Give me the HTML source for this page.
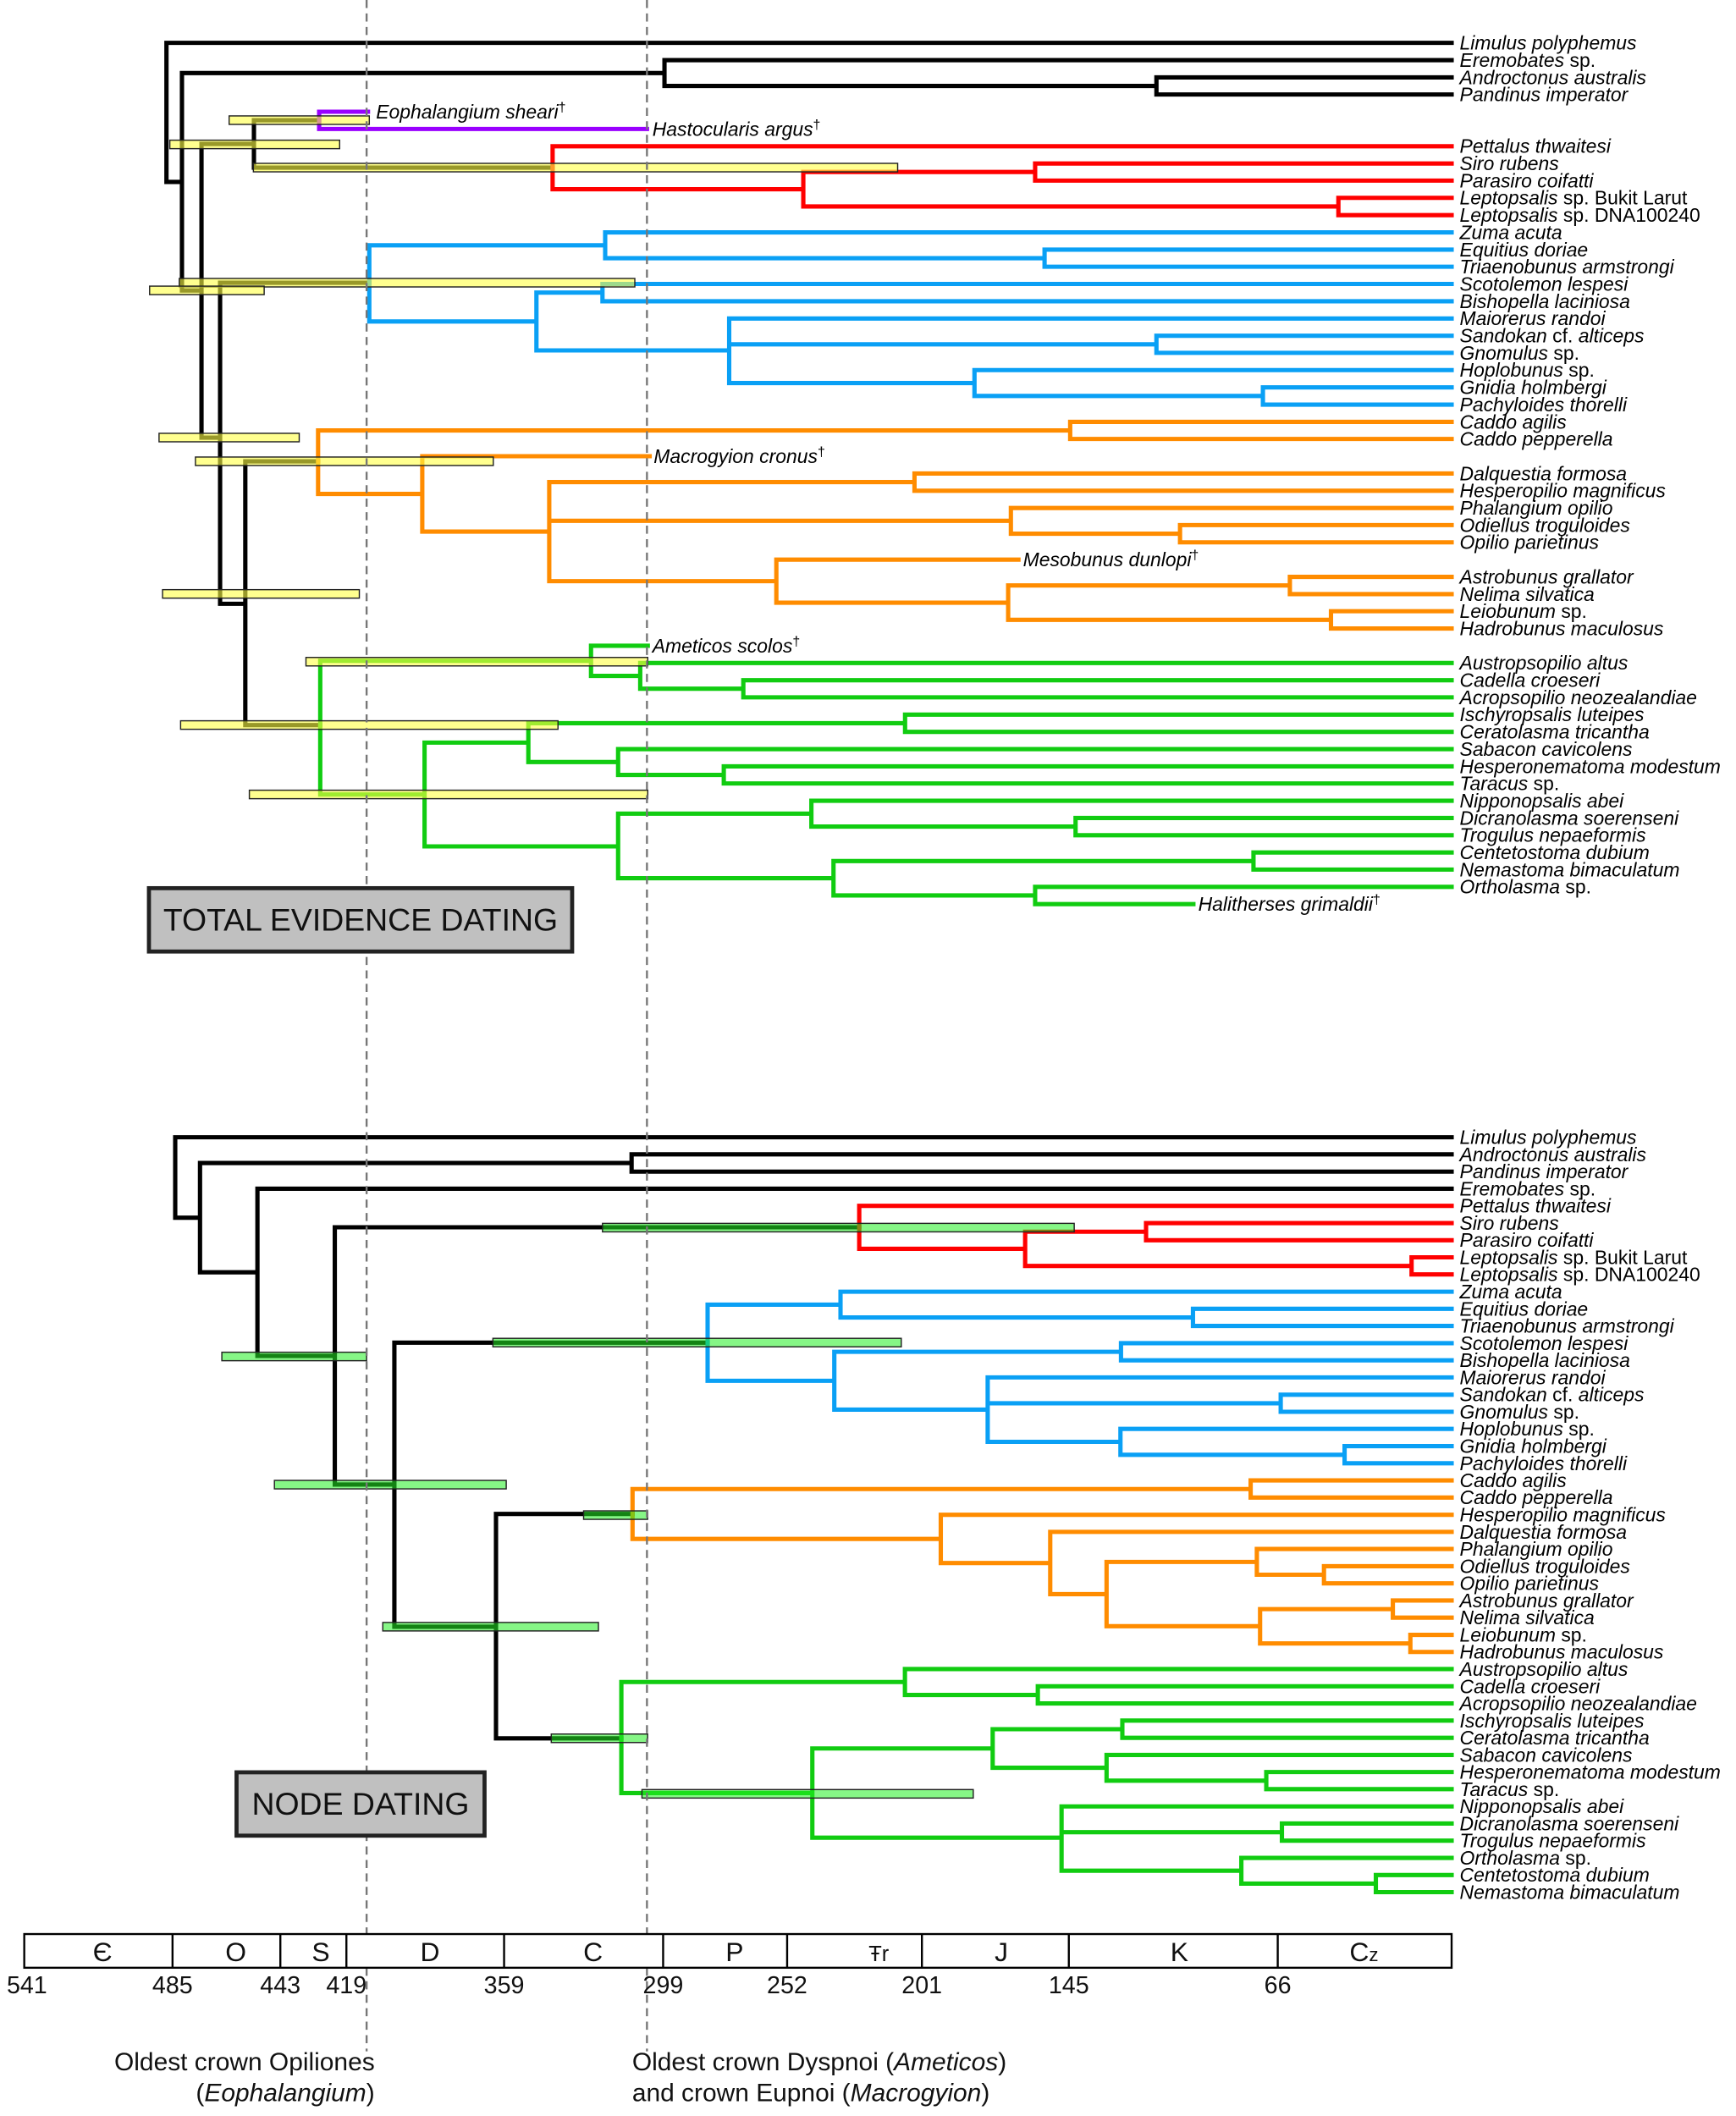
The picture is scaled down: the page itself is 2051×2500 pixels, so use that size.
<!DOCTYPE html>
<html><head><meta charset="utf-8"><style>
html,body{margin:0;padding:0;background:#fff;}
svg{display:block;}
text{font-family:"Liberation Sans",sans-serif;}
.l{font-size:14.4px;font-style:italic;}
.n{font-style:normal;}
</style></head><body>
<svg width="2051" height="2500" viewBox="0 0 1288 1570" preserveAspectRatio="none" xmlns="http://www.w3.org/2000/svg">
<g fill="none" stroke-width="3.2" stroke-linecap="square" stroke-linejoin="miter">
<path stroke="#000" d="M1077 31.8H123.5V135H135 M135 54.2V215.5H149.5 M135 54.2H493 M493 44.6V63.8 M493 44.6H1077 M493 63.8H858 M858 57.4V70.1 M858 57.4H1077 M858 70.1H1077
M149.5 106.8V324.7 M149.5 106.8H188.4 M188.4 89.2V124.4 M188.4 89.2H236.8 M188.4 124.4H410
M149.5 324.7H163.3 M163.3 209.8V448 M163.3 209.8H274 M163.3 448H182 M182 342.3V538 M182 342.3H236 M182 538H237.6"/>
<path stroke="#9900ff" d="M273 82.9H236.8V95.7H480"/>
<path stroke="#ff0000" d="M410 108.5V140.4 M410 108.5H1077 M410 140.4H596 M596 127.6V153.2 M596 127.6H768 M768 121.3V134 M768 121.3H1077 M768 134H1077 M596 153.2H993 M993 146.8V159.6 M993 146.8H1077 M993 159.6H1077"/>
<path stroke="#0aa0f5" d="M274 182V238.5 M274 182H449 M449 172.4V191.6 M449 172.4H1077 M449 191.6H775 M775 185.2V197.9 M775 185.2H1077 M775 197.9H1077
M274 238.5H398 M398 217.1V260 M398 217.1H447 M447 210.7V223.5 M447 210.7H1077 M447 223.5H1077
M398 260H541 M541 236.3V284.2 M541 236.3H1077 M541 255.5H858 M858 249.1V261.8 M858 249.1H1077 M858 261.8H1077
M541 284.2H723 M723 274.6V293.8 M723 274.6H1077 M723 293.8H937 M937 287.4V300.2 M937 287.4H1077 M937 300.2H1077"/>
<path stroke="#ff8c00" d="M236 319.4V366.5 M236 319.4H794 M794 313V325.7 M794 313H1077 M794 325.7H1077
M236 366.5H313.3 M313.3 338.5V394.4 M313.3 338.5H482 M313.3 394.4H407.5 M407.5 357.7V431.2 M407.5 357.7H678.5 M678.5 351.3V364.1 M678.5 351.3H1077 M678.5 364.1H1077
M407.5 386.4H750 M750 376.9V396 M750 376.9H1077 M750 396H875.5 M875.5 389.6V402.4 M875.5 389.6H1077 M875.5 402.4H1077
M407.5 431.2H576 M576 415.2V447.2 M576 415.2H755.6 M576 447.2H748 M748 434.4V459.9 M748 434.4H957 M957 428V440.8 M957 428H1077 M957 440.8H1077
M748 459.9H987.5 M987.5 453.5V466.3 M987.5 453.5H1077 M987.5 466.3H1077"/>
<path stroke="#11cc11" d="M237.6 490.3V589.5 M237.6 490.3H438.5 M438.5 479.1V501.5 M438.5 479.1H480.6 M438.5 501.5H475 M475 491.9V511 M475 491.9H1077 M475 511H551.5 M551.5 504.7V517.4 M551.5 504.7H1077 M551.5 517.4H1077
M237.6 589.5H315 M315 551V628 M315 551H392 M392 536.6V565.4 M392 536.6H671.5 M671.5 530.2V543 M671.5 530.2H1077 M671.5 543H1077
M392 565.4H458.6 M458.6 555.8V575 M458.6 555.8H1077 M458.6 575H537 M537 568.6V581.3 M537 568.6H1077 M537 581.3H1077
M315 628H458.6 M458.6 603.7V651.6 M458.6 603.7H602 M602 594.1V613.3 M602 594.1H1077 M602 613.3H798 M798 606.9V619.7 M798 606.9H1077 M798 619.7H1077
M458.6 651.6H618.4 M618.4 638.9V664.4 M618.4 638.9H930 M930 632.5V645.2 M930 632.5H1077 M930 645.2H1077
M618.4 664.4H768 M768 658V670.8 M768 658H1077 M768 670.8H885.4"/>
<path stroke="#000" d="M1077 843.8H130V903.5H148.4 M148.4 862.9V944 M148.4 862.9H468.6 M468.6 856.5V869.3 M468.6 856.5H1077 M468.6 869.3H1077
M148.4 944H191 M191 882V1006 M191 882H1077 M191 1006H248.4 M248.4 910.6V1101.5 M248.4 910.6H637.5 M248.4 1101.5H292.6
M292.6 996.2V1207 M292.6 996.2H525 M292.6 1207H368 M368 1123.3V1289.8 M368 1123.3H469.3 M368 1289.8H461"/>
<path stroke="#ff0000" d="M637.5 894.7V926.6 M637.5 894.7H1077 M637.5 926.6H760.6 M760.6 913.9V939.3 M760.6 913.9H850.3 M850.3 907.5V920.2 M850.3 907.5H1077 M850.3 920.2H1077 M760.6 939.3H1047.3 M1047.3 932.9V945.6 M1047.3 932.9H1077 M1047.3 945.6H1077"/>
<path stroke="#0aa0f5" d="M525 968V1024.5 M525 968H623.6 M623.6 958.4V977.5 M623.6 958.4H1077 M623.6 977.5H885.1 M885.1 971.1V983.8 M885.1 971.1H1077 M885.1 983.8H1077
M525 1024.5H619 M619 1003V1045.9 M619 1003H831.7 M831.7 996.6V1009.3 M831.7 996.6H1077 M831.7 1009.3H1077
M619 1045.9H732.8 M732.8 1022V1069.8 M732.8 1022H1077 M732.8 1041.2H950.2 M950.2 1034.8V1047.5 M950.2 1034.8H1077 M950.2 1047.5H1077
M732.8 1069.8H831.3 M831.3 1060.2V1079.4 M831.3 1060.2H1077 M831.3 1079.4H997.6 M997.6 1073V1085.7 M997.6 1073H1077 M997.6 1085.7H1077"/>
<path stroke="#ff8c00" d="M469.3 1104.8V1141.8 M469.3 1104.8H927.9 M927.9 1098.4V1111.1 M927.9 1098.4H1077 M927.9 1111.1H1077
M469.3 1141.8H698 M698 1123.9V1159.7 M698 1123.9H1077 M698 1159.7H779.2 M779.2 1136.6V1182.8 M779.2 1136.6H1077 M779.2 1182.8H821
M821 1158.9V1206.6 M821 1158.9H932.5 M932.5 1149.3V1168.4 M932.5 1149.3H1077 M932.5 1168.4H982.3 M982.3 1162.1V1174.8 M982.3 1162.1H1077 M982.3 1174.8H1077
M821 1206.6H934.9 M934.9 1193.9V1219.4 M934.9 1193.9H1033.4 M1033.4 1187.5V1200.2 M1033.4 1187.5H1077 M1033.4 1200.2H1077
M934.9 1219.4H1046.4 M1046.4 1213V1225.7 M1046.4 1213H1077 M1046.4 1225.7H1077"/>
<path stroke="#11cc11" d="M461 1248V1330.4 M461 1248H671.4 M671.4 1238.4V1257.6 M671.4 1238.4H1077 M671.4 1257.6H770 M770 1251.2V1263.9 M770 1251.2H1077 M770 1263.9H1077
M461 1330.4H602.7 M602.7 1297.3V1363.5 M602.7 1297.3H736.5 M736.5 1283V1311.6 M736.5 1283H832.7 M832.7 1276.6V1289.4 M832.7 1276.6H1077 M832.7 1289.4H1077
M736.5 1311.6H821 M821 1302.1V1321.2 M821 1302.1H1077 M821 1321.2H939.5 M939.5 1314.8V1327.5 M939.5 1314.8H1077 M939.5 1327.5H1077
M602.7 1363.5H787.6 M787.6 1340.3V1388 M787.6 1340.3H1077 M787.6 1359.4H951.1 M951.1 1353V1365.7 M951.1 1353H1077 M951.1 1365.7H1077
M787.6 1388H921 M921 1378.5V1397.6 M921 1378.5H1077 M921 1397.6H1020.8 M1020.8 1391.2V1403.9 M1020.8 1391.2H1077 M1020.8 1403.9H1077"/>
</g>
<g fill="#ffff44" fill-opacity="0.6" stroke="#222" stroke-width="0.9">
<rect x="170" y="86" width="104" height="6.3"/>
<rect x="126" y="104" width="126" height="6.3"/>
<rect x="188" y="121.2" width="478" height="6.3"/>
<rect x="133" y="206.6" width="338" height="6.3"/>
<rect x="111" y="212.3" width="85" height="6.3"/>
<rect x="118" y="321.5" width="104" height="6.3"/>
<rect x="145" y="339.1" width="221" height="6.3"/>
<rect x="120.6" y="437.5" width="146" height="6.3"/>
<rect x="227" y="487.8" width="253.6" height="6.3"/>
<rect x="134" y="534.8" width="280" height="6.3"/>
<rect x="185" y="586.3" width="295.6" height="6.3"/>
</g>
<g fill="#22ee22" fill-opacity="0.55" stroke="#222" stroke-width="0.9">
<rect x="447" y="907.7" width="350" height="6.3"/>
<rect x="365.7" y="993" width="303" height="6.3"/>
<rect x="164.6" y="1003.3" width="107.4" height="6.3"/>
<rect x="203.6" y="1098.4" width="172" height="6.3"/>
<rect x="433" y="1121" width="47.5" height="6.3"/>
<rect x="284" y="1203.8" width="160" height="6.3"/>
<rect x="409" y="1286.6" width="71.5" height="6.3"/>
<rect x="476.3" y="1327.8" width="245.8" height="6.3"/>
</g>
<g stroke="#777" stroke-width="1.5" stroke-dasharray="6,4">
<line x1="272" y1="0" x2="272" y2="1522"/>
<line x1="480" y1="0" x2="480" y2="1522"/>
</g>
<rect x="110.5" y="659" width="314" height="47" fill="#c0c0c0" stroke="#222" stroke-width="3"/>
<text x="267.5" y="690.5" font-size="23.5" text-anchor="middle" fill="#111">TOTAL EVIDENCE DATING</text>
<rect x="175.5" y="1315" width="184" height="47" fill="#c0c0c0" stroke="#222" stroke-width="3"/>
<text x="267.5" y="1346.5" font-size="23.5" text-anchor="middle" fill="#111">NODE DATING</text>
<g class="l" fill="#000">
<text x="279" y="87.9">Eophalangium sheari<tspan class="n" font-size="10" dy="-5">†</tspan></text>
<text x="484" y="100.7">Hastocularis argus<tspan class="n" font-size="10" dy="-5">†</tspan></text>
<text x="485" y="343.5">Macrogyion cronus<tspan class="n" font-size="10" dy="-5">†</tspan></text>
<text x="759" y="420.2">Mesobunus dunlopi<tspan class="n" font-size="10" dy="-5">†</tspan></text>
<text x="484" y="484.1">Ameticos scolos<tspan class="n" font-size="10" dy="-5">†</tspan></text>
<text x="889" y="675.8">Halitherses grimaldii<tspan class="n" font-size="10" dy="-5">†</tspan></text>
</g>
<g class="l" fill="#000">
<text x="1083" y="36.8">Limulus polyphemus</text>
<text x="1083" y="49.6">Eremobates <tspan class="n">sp.</tspan></text>
<text x="1083" y="62.4">Androctonus australis</text>
<text x="1083" y="75.1">Pandinus imperator</text>
<text x="1083" y="113.5">Pettalus thwaitesi</text>
<text x="1083" y="126.3">Siro rubens</text>
<text x="1083" y="139">Parasiro coifatti</text>
<text x="1083" y="151.8">Leptopsalis <tspan class="n">sp. Bukit Larut</tspan></text>
<text x="1083" y="164.6">Leptopsalis <tspan class="n">sp. DNA100240</tspan></text>
<text x="1083" y="177.4">Zuma acuta</text>
<text x="1083" y="190.2">Equitius doriae</text>
<text x="1083" y="202.9">Triaenobunus armstrongi</text>
<text x="1083" y="215.7">Scotolemon lespesi</text>
<text x="1083" y="228.5">Bishopella laciniosa</text>
<text x="1083" y="241.3">Maiorerus randoi</text>
<text x="1083" y="254.1">Sandokan <tspan class="n">cf.</tspan> alticeps</text>
<text x="1083" y="266.8">Gnomulus <tspan class="n">sp.</tspan></text>
<text x="1083" y="279.6">Hoplobunus <tspan class="n">sp.</tspan></text>
<text x="1083" y="292.4">Gnidia holmbergi</text>
<text x="1083" y="305.2">Pachyloides thorelli</text>
<text x="1083" y="318">Caddo agilis</text>
<text x="1083" y="330.7">Caddo pepperella</text>
<text x="1083" y="356.3">Dalquestia formosa</text>
<text x="1083" y="369.1">Hesperopilio magnificus</text>
<text x="1083" y="381.9">Phalangium opilio</text>
<text x="1083" y="394.6">Odiellus troguloides</text>
<text x="1083" y="407.4">Opilio parietinus</text>
<text x="1083" y="433">Astrobunus grallator</text>
<text x="1083" y="445.8">Nelima silvatica</text>
<text x="1083" y="458.5">Leiobunum <tspan class="n">sp.</tspan></text>
<text x="1083" y="471.3">Hadrobunus maculosus</text>
<text x="1083" y="496.9">Austropsopilio altus</text>
<text x="1083" y="509.7">Cadella croeseri</text>
<text x="1083" y="522.4">Acropsopilio neozealandiae</text>
<text x="1083" y="535.2">Ischyropsalis luteipes</text>
<text x="1083" y="548">Ceratolasma tricantha</text>
<text x="1083" y="560.8">Sabacon cavicolens</text>
<text x="1083" y="573.6">Hesperonematoma modestum</text>
<text x="1083" y="586.3">Taracus <tspan class="n">sp.</tspan></text>
<text x="1083" y="599.1">Nipponopsalis abei</text>
<text x="1083" y="611.9">Dicranolasma soerenseni</text>
<text x="1083" y="624.7">Trogulus nepaeformis</text>
<text x="1083" y="637.5">Centetostoma dubium</text>
<text x="1083" y="650.2">Nemastoma bimaculatum</text>
<text x="1083" y="663">Ortholasma <tspan class="n">sp.</tspan></text>
</g>
<g class="l" fill="#000">
<text x="1083" y="848.8">Limulus polyphemus</text>
<text x="1083" y="861.5">Androctonus australis</text>
<text x="1083" y="874.3">Pandinus imperator</text>
<text x="1083" y="887">Eremobates <tspan class="n">sp.</tspan></text>
<text x="1083" y="899.7">Pettalus thwaitesi</text>
<text x="1083" y="912.5">Siro rubens</text>
<text x="1083" y="925.2">Parasiro coifatti</text>
<text x="1083" y="937.9">Leptopsalis <tspan class="n">sp. Bukit Larut</tspan></text>
<text x="1083" y="950.6">Leptopsalis <tspan class="n">sp. DNA100240</tspan></text>
<text x="1083" y="963.4">Zuma acuta</text>
<text x="1083" y="976.1">Equitius doriae</text>
<text x="1083" y="988.8">Triaenobunus armstrongi</text>
<text x="1083" y="1001.6">Scotolemon lespesi</text>
<text x="1083" y="1014.3">Bishopella laciniosa</text>
<text x="1083" y="1027">Maiorerus randoi</text>
<text x="1083" y="1039.8">Sandokan <tspan class="n">cf.</tspan> alticeps</text>
<text x="1083" y="1052.5">Gnomulus <tspan class="n">sp.</tspan></text>
<text x="1083" y="1065.2">Hoplobunus <tspan class="n">sp.</tspan></text>
<text x="1083" y="1078">Gnidia holmbergi</text>
<text x="1083" y="1090.7">Pachyloides thorelli</text>
<text x="1083" y="1103.4">Caddo agilis</text>
<text x="1083" y="1116.1">Caddo pepperella</text>
<text x="1083" y="1128.9">Hesperopilio magnificus</text>
<text x="1083" y="1141.6">Dalquestia formosa</text>
<text x="1083" y="1154.3">Phalangium opilio</text>
<text x="1083" y="1167.1">Odiellus troguloides</text>
<text x="1083" y="1179.8">Opilio parietinus</text>
<text x="1083" y="1192.5">Astrobunus grallator</text>
<text x="1083" y="1205.2">Nelima silvatica</text>
<text x="1083" y="1218">Leiobunum <tspan class="n">sp.</tspan></text>
<text x="1083" y="1230.7">Hadrobunus maculosus</text>
<text x="1083" y="1243.4">Austropsopilio altus</text>
<text x="1083" y="1256.2">Cadella croeseri</text>
<text x="1083" y="1268.9">Acropsopilio neozealandiae</text>
<text x="1083" y="1281.6">Ischyropsalis luteipes</text>
<text x="1083" y="1294.4">Ceratolasma tricantha</text>
<text x="1083" y="1307.1">Sabacon cavicolens</text>
<text x="1083" y="1319.8">Hesperonematoma modestum</text>
<text x="1083" y="1332.5">Taracus <tspan class="n">sp.</tspan></text>
<text x="1083" y="1345.3">Nipponopsalis abei</text>
<text x="1083" y="1358">Dicranolasma soerenseni</text>
<text x="1083" y="1370.7">Trogulus nepaeformis</text>
<text x="1083" y="1383.5">Ortholasma <tspan class="n">sp.</tspan></text>
<text x="1083" y="1396.2">Centetostoma dubium</text>
<text x="1083" y="1408.9">Nemastoma bimaculatum</text>
</g>
<rect x="18" y="1435" width="1059" height="25" fill="#fff" stroke="#000" stroke-width="1.5"/>
<g stroke="#000" stroke-width="1.5">
<line x1="128" y1="1435" x2="128" y2="1460"/><line x1="208" y1="1435" x2="208" y2="1460"/>
<line x1="257" y1="1435" x2="257" y2="1460"/><line x1="374" y1="1435" x2="374" y2="1460"/>
<line x1="492" y1="1435" x2="492" y2="1460"/><line x1="584" y1="1435" x2="584" y2="1460"/>
<line x1="684" y1="1435" x2="684" y2="1460"/><line x1="793" y1="1435" x2="793" y2="1460"/>
<line x1="948" y1="1435" x2="948" y2="1460"/>
</g>
<g font-size="20" text-anchor="middle" fill="#111">
<text x="76" y="1455">Є</text><text x="175" y="1455">O</text><text x="238" y="1455">S</text>
<text x="319" y="1455">D</text><text x="440" y="1455">C</text><text x="545" y="1455">P</text>
<text x="652" y="1455" font-size="16">Ŧr</text><text x="743" y="1455">J</text><text x="875" y="1455">K</text>
<text x="1012" y="1455">C<tspan font-size="14">z</tspan></text>
</g>
<g font-size="18" text-anchor="middle" fill="#111">
<text x="20" y="1479">541</text><text x="128" y="1479">485</text><text x="208" y="1479">443</text>
<text x="257" y="1479">419</text><text x="374" y="1479">359</text><text x="492" y="1479">299</text>
<text x="584" y="1479">252</text><text x="684" y="1479">201</text><text x="793" y="1479">145</text>
<text x="948" y="1479">66</text>
</g>
<g font-size="18.8" fill="#111">
<text x="278" y="1536" text-anchor="end">Oldest crown Opiliones</text>
<text x="278" y="1559" text-anchor="end">(<tspan font-style="italic">Eophalangium</tspan>)</text>
<text x="469" y="1536">Oldest crown Dyspnoi (<tspan font-style="italic">Ameticos</tspan>)</text>
<text x="469" y="1559">and crown Eupnoi (<tspan font-style="italic">Macrogyion</tspan>)</text>
</g>
</svg>
</body></html>
